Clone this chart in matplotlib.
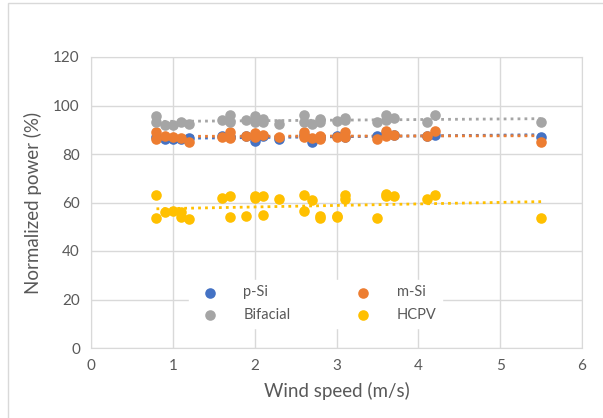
import matplotlib.pyplot as plt
import numpy as np
from matplotlib.patches import Rectangle

# wind speed (m/s) and normalized power (%) per technology
psi_x = [0.8, 0.9, 1.0, 1.1, 1.2, 1.6, 1.7, 1.9, 2.0, 2.1, 2.3, 2.6, 2.7, 2.8,
         3.0, 3.1, 3.5, 3.6, 3.7, 4.1, 4.2, 5.5]
psi_y = [87, 86, 86, 86, 86.5, 87.5, 87, 87.5, 85.5, 87.5, 86, 88, 85, 86.5,
         87.5, 87, 87.5, 88.5, 88, 87.5, 88, 87]

msi_x = [0.8, 0.8, 0.9, 1.0, 1.1, 1.2, 1.6, 1.7, 1.7, 1.9, 2.0, 2.0, 2.1, 2.3,
         2.6, 2.6, 2.7, 2.8, 2.8, 3.0, 3.1, 3.1, 3.5, 3.6, 3.6, 3.7, 4.1, 4.2, 5.5]
msi_y = [89, 86, 87.5, 87, 86.5, 85, 87, 89, 86.5, 87.5, 88.5, 87, 88, 87,
         89, 87, 86.5, 87.5, 86, 87, 89, 87, 86, 89.5, 87.5, 88, 87.5, 89.5, 85]

bif_x = [0.8, 0.8, 0.9, 1.0, 1.1, 1.2, 1.6, 1.7, 1.7, 1.9, 2.0, 2.0, 2.1, 2.1,
         2.3, 2.6, 2.6, 2.7, 2.8, 2.8, 3.0, 3.1, 3.1, 3.5, 3.6, 3.6, 3.7, 4.1, 4.2, 5.5]
bif_y = [95.5, 93, 92, 92, 93, 92.5, 94, 96, 93, 94, 95.5, 93, 94.5, 93,
         92.5, 96, 93, 92.5, 94.5, 93, 93.5, 95, 94, 93, 96, 94, 95, 93, 96, 93]

hcpv_x = [0.8, 0.8, 0.9, 1.0, 1.1, 1.1, 1.2, 1.6, 1.7, 1.7, 1.9, 2.0, 2.0, 2.1,
          2.1, 2.3, 2.6, 2.6, 2.7, 2.8, 2.8, 3.0, 3.0, 3.1, 3.1, 3.5, 3.6, 3.6,
          3.7, 4.1, 4.2, 5.5]
hcpv_y = [63, 53.5, 56, 56.5, 56, 54, 53, 62, 62.5, 54, 54.5, 62.5, 62, 62.5,
          55, 61.5, 63, 56.5, 61, 54.5, 53.5, 54.5, 54, 63, 61.5, 53.5, 63.5, 62.5,
          62.5, 61.5, 63, 53.5]

series = [
    ('p-Si', psi_x, psi_y, '#4472C4'),
    ('m-Si', msi_x, msi_y, '#ED7D31'),
    ('Bifacial', bif_x, bif_y, '#A5A5A5'),
    ('HCPV', hcpv_x, hcpv_y, '#FFC000'),
]

plt.rcParams['font.family'] = ['Lato', 'DejaVu Sans']

fig = plt.figure(figsize=(6.03, 4.18), dpi=100)
ax = fig.add_axes([91 / 603, 1 - 348 / 418, 491 / 603, 291 / 418])

# light chart border
fig.patches.append(Rectangle((8 / 603, -0.01), 1.0, 1 - 3 / 418 + 0.01,
                             transform=fig.transFigure, fill=False,
                             edgecolor='#D9D9D9', linewidth=1))

handles = {}
for name, x, y, color in series:
    h = ax.scatter(x, y, s=58, color=color, zorder=3, label=name, linewidths=0)
    handles[name] = h
    # linear trendline
    k, b = np.polyfit(x, y, 1)
    xt = np.array([min(x), max(x)])
    ax.plot(xt, k * xt + b, color=color, linestyle=(0, (1, 1.5)), linewidth=2, zorder=2)

ax.set_xlim(0, 6)
ax.set_ylim(0, 120)
ax.set_xticks(range(0, 7))
ax.set_yticks(range(0, 121, 20))
ax.grid(True, color='#D9D9D9', linewidth=1)
ax.set_axisbelow(True)
for s in ax.spines.values():
    s.set_color('#D9D9D9')
ax.tick_params(length=0, labelsize=11, colors='#595959', pad=8)

ax.set_xlabel('Wind speed (m/s)', fontsize=13.5, color='#595959', labelpad=6)
ax.set_ylabel('Normalized power (%)', fontsize=13.5, color='#595959', labelpad=8)

order = ['p-Si', 'Bifacial', 'm-Si', 'HCPV']
leg = ax.legend([handles[n] for n in order], order, ncol=2, loc='upper left',
                bbox_to_anchor=(0.2, 0.235), frameon=True, fontsize=10.5,
                columnspacing=4.0, handletextpad=1.3, labelspacing=0.6,
                borderaxespad=0, facecolor='white', edgecolor='white',
                framealpha=1, markerscale=1)
for t in leg.get_texts():
    t.set_color('#595959')

fig.savefig('out.png', dpi=100)
